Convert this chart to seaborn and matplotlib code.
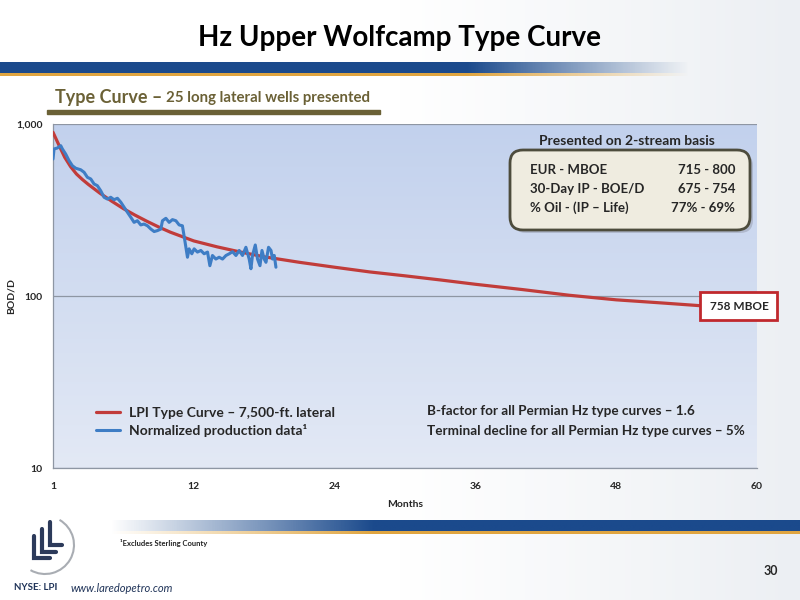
import numpy as np
import matplotlib
matplotlib.use('Agg')
import matplotlib.pyplot as plt
import seaborn as sns
from matplotlib.patches import FancyBboxPatch, Rectangle, Arc
from matplotlib.colors import LinearSegmentedColormap, to_rgb
from matplotlib.ticker import NullLocator

# LPI type curve (red), months vs BOD/D
curve_months = [0, 0.5, 1, 1.5, 2, 2.5, 3, 4, 5, 6, 7, 8, 9, 10, 12, 14, 16,
                18, 21, 24, 27, 30, 33, 36, 40, 44, 48, 52, 56, 60]
curve_bopd = [895, 755, 640, 565, 512, 476, 446, 396, 356, 322, 295, 272,
              252, 235, 209, 193, 180, 169, 157, 147, 138, 131, 124, 117,
              109, 101, 95, 91, 87, 85]

# normalized production data (blue)
prod_months = [0.0, 0.09, 0.37, 0.66, 0.8, 1.08, 1.37, 1.65, 1.94, 2.36,
               2.65, 2.93, 3.22, 3.5, 3.78, 4.07, 4.35, 4.64, 4.92, 5.2,
               5.49, 5.78, 6.06, 6.34, 6.63, 6.91, 7.19, 7.48, 7.76, 8.05,
               8.34, 8.62, 8.9, 9.19, 9.33, 9.62, 9.9, 10.18, 10.47, 10.75,
               11.03, 11.26, 11.46, 11.6, 11.83, 12.03, 12.31, 12.6, 12.88,
               13.17, 13.37, 13.59, 13.88, 14.16, 14.45, 14.74, 15.02, 15.3,
               15.59, 15.87, 16.15, 16.44, 16.72, 16.87, 17.0, 17.24, 17.43,
               17.64, 17.81, 18.0, 18.15, 18.37, 18.58, 18.71, 18.86, 19.0]
prod_bopd = [626, 716, 725, 748, 716, 669, 612, 572, 553, 542,
             524, 490, 479, 448, 438, 409, 375, 366, 375, 363,
             370, 351, 328, 307, 287, 268, 274, 259, 262, 256,
             245, 237, 240, 245, 274, 283, 268, 278, 274, 259,
             256, 205, 168, 188, 176, 188, 180, 184, 176,
             180, 150, 172, 164, 168, 164, 172, 176, 181,
             172, 184, 172, 192, 164, 144, 172, 198, 164,
             150, 184, 164, 157, 192, 184, 164, 172, 147]

x_ticks = [0, 12, 24, 36, 48, 60]
x_tick_labels = ['1', '12', '24', '36', '48', '60']
y_ticks = [10, 100, 1000]
y_tick_labels = ['10', '100', '1,000']

box_labels = ['EUR - MBOE', '30-Day IP - BOE/D', '% Oil - (IP \u2013 Life)']
box_values = ['715 - 800', '675 - 754', '77% - 69%']

RED = '#c13c3a'
BLUE = '#3e7dc5'
NAVY = '#1b4a8c'
OLIVE = '#6b6136'

sns.set_style('white')
plt.rcParams['font.family'] = ['Lato', 'DejaVu Sans']

fig = plt.figure(figsize=(8, 6), dpi=100)


def pixel_axes(z):
    a = fig.add_axes([0, 0, 1, 1], zorder=z)
    a.set_xlim(0, 800)
    a.set_ylim(600, 0)
    a.axis('off')
    a.patch.set_alpha(0)
    return a


# background axes in pixel coords for slide decorations
bg = pixel_axes(0)

# faint slide background
grad = np.linspace(0, 1, 256).reshape(1, -1)
cmap_bg = LinearSegmentedColormap.from_list('bg', ['#ffffff', '#ffffff', '#eceff3'])
bg.imshow(grad, extent=[0, 800, 600, 0], cmap=cmap_bg, aspect='auto', zorder=0)


def band(x0, x1, y0, y1, color, fade_right=True, solid_frac=0.6):
    n = 400
    t = np.linspace(0, 1, n)
    if fade_right:
        a = np.clip((1 - t) / (1 - solid_frac), 0, 1)
    else:
        a = np.clip(t / (1 - solid_frac), 0, 1)
    rgba = np.zeros((1, n, 4))
    rgba[..., :3] = to_rgb(color)
    rgba[..., 3] = a
    bg.imshow(rgba, extent=[x0, x1, y1, y0], aspect='auto', zorder=1)


# top band
band(0, 690, 62, 73, NAVY, fade_right=True, solid_frac=0.68)
band(0, 690, 73, 76, '#e0a540', fade_right=True, solid_frac=0.68)
# bottom band
band(110, 800, 520, 531, NAVY, fade_right=False, solid_frac=0.62)
band(110, 800, 531, 534, '#e0a540', fade_right=False, solid_frac=0.62)

bg.text(400, 38, 'Hz Upper Wolfcamp Type Curve', ha='center', va='center',
        fontsize=20, fontweight='bold', color='black')

bg.text(55, 97, 'Type Curve \u2013', ha='left', va='center', fontsize=13,
        fontweight='bold', color=OLIVE)
bg.text(166, 98, '25 long lateral wells presented', ha='left', va='center',
        fontsize=10.8, fontweight='bold', color=OLIVE)
bg.add_patch(Rectangle((47, 110), 333, 3.5, color=OLIVE, zorder=2))

# main chart
ax = fig.add_axes([53 / 800, 1 - 468 / 600, 704 / 800, 344 / 600], zorder=1)
ax.set_facecolor('none')
cmap_plot = LinearSegmentedColormap.from_list('plot', ['#e3e9f5', '#c2d1ed'])
ax.imshow(np.linspace(0, 1, 256).reshape(-1, 1), extent=[0, 1, 0, 1],
          transform=ax.transAxes, cmap=cmap_plot, origin='lower',
          aspect='auto', zorder=0)

sns.lineplot(x=curve_months, y=curve_bopd, ax=ax, color=RED, lw=2.3,
             label='LPI Type Curve \u2013 7,500-ft. lateral', zorder=3)
sns.lineplot(x=prod_months, y=prod_bopd, ax=ax, color=BLUE, lw=2.2,
             label='Normalized production data\u00b9', zorder=4)

ax.set_yscale('log')
ax.set_ylim(10, 1000)
ax.set_xlim(0, 60)
ax.set_yticks(y_ticks, y_tick_labels)
ax.set_xticks(x_ticks, x_tick_labels)
ax.yaxis.set_minor_locator(NullLocator())
ax.grid(axis='y', color='#8e96a3', lw=0.9)
ax.grid(axis='x', visible=False)
for side in ['top', 'right']:
    ax.spines[side].set_visible(False)
for side in ['left', 'bottom']:
    ax.spines[side].set_color('#8e96a3')
    ax.spines[side].set_linewidth(0.9)
ax.tick_params(axis='both', direction='out', length=4, color='#8e96a3',
               labelsize=7.5)
ax.tick_params(axis='x', pad=6)
for lbl in ax.get_xticklabels() + ax.get_yticklabels():
    lbl.set_fontweight('bold')
ax.set_xlabel('Months', fontsize=7.5, fontweight='bold')
ax.xaxis.set_label_coords(0.5, -(500 - 468) / 344)
ax.set_ylabel('BOD/D', fontsize=7.5, fontweight='bold')
ax.yaxis.set_label_coords(-(53 - 16) / 704, 0.5)

leg = ax.legend(loc='center left', bbox_to_anchor=(43 / 704, 1 - 298 / 344),
                frameon=False, borderpad=0, borderaxespad=0,
                handlelength=1.75, handletextpad=0.6, labelspacing=0.35,
                prop={'size': 10, 'weight': 'bold'})

# overlay axes, above the chart
fg = pixel_axes(2)

# right-hand notes
fg.text(427, 411, 'B-factor for all Permian Hz type curves \u2013 1.6',
        ha='left', va='center', fontsize=9.7, fontweight='bold')
fg.text(427, 431, 'Terminal decline for all Permian Hz type curves \u2013 5%',
        ha='left', va='center', fontsize=9.7, fontweight='bold')

# stats box
fg.text(627, 141, 'Presented on 2-stream basis', ha='center', va='center',
        fontsize=10, fontweight='bold')
fg.add_patch(FancyBboxPatch((513, 153), 240, 80,
                            boxstyle='round,pad=0,rounding_size=13',
                            facecolor='#7d8090', edgecolor='none', alpha=0.35,
                            zorder=4))
fg.add_patch(FancyBboxPatch((510, 150), 240, 80,
                            boxstyle='round,pad=0,rounding_size=13',
                            facecolor='#efece0', edgecolor='#4d4c3c', lw=2,
                            zorder=5))
for i, (lab, val) in enumerate(zip(box_labels, box_values)):
    y = 170 + i * 19
    fg.text(530, y, lab, ha='left', va='center', fontsize=9.5,
            fontweight='bold', zorder=6)
    fg.text(735, y, val, ha='right', va='center', fontsize=9.5,
            fontweight='bold', zorder=6)

# EUR label box
fg.add_patch(Rectangle((700, 292), 77, 28, facecolor='white',
                       edgecolor='#c0282d', lw=2, zorder=5))
fg.text(739, 306, '758 MBOE', ha='center', va='center', fontsize=8.5,
        fontweight='bold', zorder=6)

# logo
bg.add_patch(Arc((45, 545), 58, 58, theta1=-60, theta2=120, color='#a9adb3',
                 lw=1.5, zorder=2))
for dx, top, right in [(0, 536, 50), (8, 529, 56), (16, 522, 62)]:
    x0 = 34 + dx
    bottom = 558 - dx * 0.8
    bg.plot([x0, x0, right], [top, bottom, bottom], color='#2c3a5a', lw=3,
            solid_joinstyle='miter', zorder=3)

bg.text(120, 543, '\u00b9Excludes Sterling County', ha='left', va='center',
        fontsize=5.5, fontweight='bold', color='#222222')
bg.text(778, 571, '30', ha='right', va='center', fontsize=9,
        fontweight='bold')
bg.text(14, 588, 'NYSE: LPI', ha='left', va='center', fontsize=7,
        fontweight='bold', color='#1f3358')
bg.text(71, 588, 'www.laredopetro.com', ha='left', va='center', fontsize=8,
        style='italic', color='#1f3358')

fig.savefig('out.png', dpi=100)
